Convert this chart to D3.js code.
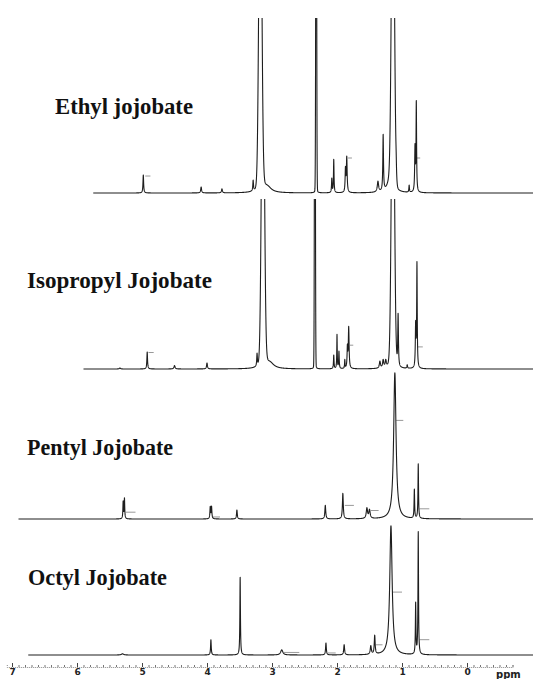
<!DOCTYPE html>
<html>
<head>
<meta charset="utf-8">
<script src="https://cdn.jsdelivr.net/npm/d3@7/dist/d3.min.js"></script>
<style>
  html, body { margin: 0; padding: 0; background: #fff; }
  svg { display: block; }
</style>
</head>
<body>
<svg id="chart" width="533" height="679"></svg>
<script>
// ---------------- DATA ----------------
// peaks: [chemical shift (ppm), relative intensity (100 = full panel height), width (ppm), shape ("g" = Gaussian, default Lorentzian)]
const ethylPeaks = [
  [4.98, 10.3, 0.006], [4.09, 3.4, 0.008], [3.77, 2.3, 0.008], [3.29, 6.0, 0.006],
  [3.18, 200, 0.022, "g"], [3.17, 9, 0.045], [3.07, 3.0, 0.07],
  [2.32, 300, 0.006, "g"], [2.32, 4, 0.012],
  [2.08, 8, 0.005], [2.05, 19, 0.005],
  [1.87, 13, 0.006], [1.85, 20, 0.007],
  [1.37, 6, 0.012], [1.29, 32, 0.006],
  [1.14, 200, 0.022, "g"], [1.15, 9, 0.045], [1.20, 4, 0.04], [1.09, 5, 0.006],
  [0.89, 4, 0.005], [0.80, 25, 0.006], [0.78, 51, 0.005]
];
const isopropylPeaks = [
  [5.34, 0.6, 0.01], [4.92, 10, 0.006], [4.50, 2, 0.01], [4.00, 3.5, 0.008],
  [3.23, 7.5, 0.006], [3.14, 200, 0.022, "g"], [3.13, 9, 0.045], [3.03, 3.0, 0.07],
  [2.34, 300, 0.006, "g"], [2.34, 4, 0.012],
  [2.05, 8, 0.005], [2.00, 20, 0.004], [1.97, 10, 0.005], [1.88, 5, 0.004],
  [1.84, 12, 0.006], [1.82, 24, 0.007],
  [1.34, 4, 0.01], [1.29, 4.5, 0.01], [1.25, 4, 0.01],
  [1.14, 200, 0.022, "g"], [1.15, 8, 0.045], [1.06, 31, 0.006], [0.92, 2, 0.006],
  [0.79, 25, 0.006], [0.77, 61, 0.005]
];
const pentylPeaks = [
  [5.29, 10, 0.005], [5.27, 12, 0.005],
  [3.95, 7, 0.006], [3.93, 7, 0.006],
  [3.54, 5.3, 0.007],
  [2.18, 8, 0.008],
  [1.91, 15, 0.008],
  [1.54, 6, 0.012], [1.50, 5, 0.012],
  [1.11, 86, 0.022],
  [0.81, 17, 0.005], [0.75, 32, 0.005]
];
const octylPeaks = [
  [5.30, 0.7, 0.02],
  [3.94, 9, 0.006],
  [3.49, 46, 0.005],
  [2.85, 3, 0.02],
  [2.17, 7, 0.007],
  [1.89, 6, 0.008],
  [1.48, 5, 0.01], [1.42, 11, 0.008],
  [1.17, 76, 0.022],
  [0.79, 30, 0.005], [0.75, 72, 0.005]
];
// integral marks: [start ppm, level (same units as intensity), end ppm]
const ethylIntegrals = [[4.95, 9.7, 4.87], [1.83, 20, 1.77], [0.77, 20, 0.72]];
const isopropylIntegrals = [[4.90, 9.7, 4.82], [1.80, 14, 1.75], [0.76, 13, 0.68]];
const pentylIntegrals = [[5.25, 4, 5.10], [3.91, 1.2, 3.80], [1.88, 8, 1.74], [1.48, 5, 1.36], [1.09, 58, 0.98], [0.73, 6, 0.58]];
const octylIntegrals = [[2.82, 1.5, 2.58], [2.15, 1.2, 2.02], [1.40, 6, 1.30], [1.15, 37, 1.00], [0.73, 9, 0.58]];

const compoundNames = ["Ethyl jojobate", "Isopropyl Jojobate", "Pentyl Jojobate", "Octyl Jojobate"];
const axisTickValues = [7, 6, 5, 4, 3, 2, 1, 0];
const axisUnit = "ppm";

// ---------------- LAYOUT ----------------
const W = 533, H = 679;
const svg = d3.select("#chart");
const x = d3.scaleLinear().domain([7, 0]).range([12, 467]);

const panels = [
  { name: compoundNames[0], peaks: ethylPeaks, integrals: ethylIntegrals, base: 193, top: 18, from: 5.75, lx: 55, ly: 114, lw: 138 },
  { name: compoundNames[1], peaks: isopropylPeaks, integrals: isopropylIntegrals, base: 369, top: 199, from: 5.9, lx: 27, ly: 288, lw: 185 },
  { name: compoundNames[2], peaks: pentylPeaks, integrals: pentylIntegrals, base: 519, top: 349, from: 6.9, lx: 27, ly: 455, lw: 146 },
  { name: compoundNames[3], peaks: octylPeaks, integrals: octylIntegrals, base: 655, top: 485, from: 6.75, lx: 28, ly: 585, lw: 139 }
];
const ppmEnd = x.invert(W + 2);

function shape(ppm, [c, h, w, kind]) {
  const d = ppm - c;
  if (kind === "g") return h * Math.exp(-(d * d) / (2 * w * w));
  return h * (w * w) / (d * d + w * w);
}

const defs = svg.append("defs");

panels.forEach((p, i) => {
  const y = d3.scaleLinear().domain([0, 100]).range([p.base, p.top]);
  const grid = d3.range(p.from, ppmEnd, -0.0012);
  const intensity = ppm => d3.sum(p.peaks, pk => shape(ppm, pk));
  const pts = grid.map(v => [v, Math.min(intensity(v), 140)]);

  defs.append("clipPath").attr("id", "clip" + i)
    .append("rect").attr("x", 0).attr("y", p.top).attr("width", W).attr("height", p.base - p.top + 10);

  const g = svg.append("g");

  g.selectAll("line.int").data(p.integrals).join("line")
    .attr("class", "int")
    .attr("x1", d => x(d[0])).attr("x2", d => x(d[2]))
    .attr("y1", d => y(d[1])).attr("y2", d => y(d[1]))
    .attr("stroke", "#999").attr("stroke-width", 1);

  g.append("path")
    .datum(pts)
    .attr("clip-path", `url(#clip${i})`)
    .attr("fill", "none")
    .attr("stroke", "#1e1e1e")
    .attr("stroke-width", 1.1)
    .attr("stroke-linejoin", "round")
    .attr("d", d3.line().x(d => x(d[0])).y(d => y(d[1])));

  svg.append("text")
    .attr("x", p.lx).attr("y", p.ly)
    .attr("font-family", "'Liberation Serif', 'Times New Roman', serif")
    .attr("font-weight", "bold")
    .attr("font-size", 23)
    .attr("textLength", p.lw)
    .attr("lengthAdjust", "spacingAndGlyphs")
    .attr("fill", "#111")
    .text(p.name);
});

// ---------------- AXIS ----------------
const axisY = 667;
const axisScale = d3.scaleLinear().domain([7.08, -0.7]).range([x(7.08), x(-0.7)]);
const minor = svg.append("g").attr("transform", `translate(0,${axisY})`)
  .call(d3.axisBottom(axisScale).tickValues(d3.range(-7, 71).map(v => v / 10)).tickSize(-2).tickFormat(""));
minor.select(".domain").attr("stroke", "#888").attr("stroke-dasharray", "1,1");
minor.selectAll(".tick line").attr("stroke", "#777");

const major = svg.append("g").attr("transform", `translate(0,${axisY})`)
  .call(d3.axisBottom(axisScale).tickValues(axisTickValues).tickSize(-4).tickPadding(2).tickFormat(d3.format("d")));
major.select(".domain").remove();
major.selectAll(".tick line").attr("stroke", "#444");
major.selectAll(".tick text")
  .attr("font-family", "'DejaVu Sans', sans-serif")
  .attr("font-weight", "bold")
  .attr("font-size", 9)
  .attr("fill", "#222");

svg.append("text")
  .attr("x", 496).attr("y", 678)
  .attr("font-family", "'DejaVu Sans', sans-serif")
  .attr("font-weight", "bold")
  .attr("font-size", 10)
  .attr("fill", "#222")
  .text(axisUnit);
</script>
</body>
</html>
